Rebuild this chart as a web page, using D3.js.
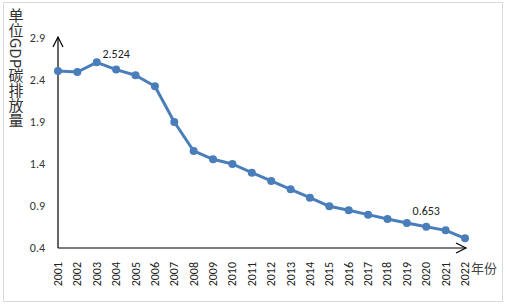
<!DOCTYPE html>
<html>
<head>
<meta charset="utf-8">
<script src="https://cdn.jsdelivr.net/npm/d3@7"></script>
<style>
  body { margin: 0; background: #fff; }
  text { font-family: Calibri, "Liberation Sans", "Noto Sans CJK SC", sans-serif; }
</style>
</head>
<body>
<div id="chart"></div>
<script>
// carbon emission per unit GDP, 2001-2022
const years = ["2001", "2002", "2003", "2004", "2005", "2006", "2007", "2008", "2009", "2010", "2011",
    "2012", "2013", "2014", "2015", "2016", "2017", "2018", "2019", "2020", "2021", "2022"];
const values = [2.507, 2.495, 2.61, 2.524, 2.456, 2.325, 1.9, 1.555, 1.456, 1.40, 1.297,
    1.198, 1.099, 0.999, 0.896, 0.849, 0.797, 0.745, 0.698, 0.653, 0.61, 0.515];
const yTicks = [0.4, 0.9, 1.4, 1.9, 2.4, 2.9];
const labeled = ["2004", "2020"];

const width = 506, height = 305;
const margin = { left: 58, right: 465, top: 38, bottom: 248 };

const svg = d3.select("#chart").append("svg")
    .attr("width", width)
    .attr("height", height);

// outer frame
svg.append("rect")
    .attr("x", 3.5).attr("y", 2.5)
    .attr("width", 499).attr("height", 299)
    .attr("fill", "none")
    .attr("stroke", "#d9d9d9");

const x = d3.scalePoint().domain(years).range([margin.left, margin.right]);
const y = d3.scaleLinear().domain([0.4, 2.9]).range([margin.bottom, margin.top]);

// y tick labels
svg.selectAll(".ytick")
    .data(yTicks)
    .enter()
    .append("text")
    .attr("class", "ytick")
    .attr("x", 45)
    .attr("y", (d) => y(d) + 4)
    .attr("text-anchor", "end")
    .attr("font-size", "12px")
    .attr("fill", "#333")
    .text((d) => d.toFixed(1));

// year labels, rotated
svg.selectAll(".xtick")
    .data(years)
    .enter()
    .append("text")
    .attr("class", "xtick")
    .attr("transform", (d) => "translate(" + (x(d) + 4) + ",262) rotate(-90)")
    .attr("text-anchor", "end")
    .attr("font-size", "12px")
    .attr("fill", "#222")
    .text((d) => d);

// axes with open arrow heads
const L = margin.left, R = margin.right, T = margin.top, B = margin.bottom;
const axisG = svg.append("g").attr("stroke", "#000").attr("fill", "none").attr("stroke-width", 1.2);
axisG.append("path").attr("d", "M" + L + "," + B + "V" + (T - 1));
axisG.append("path").attr("d", "M" + (L - 5) + "," + (T + 9) + "L" + L + "," + (T - 1) + "L" + (L + 5) + "," + (T + 9));
axisG.append("path").attr("d", "M" + L + "," + B + "H" + (R + 1));
axisG.append("path").attr("d", "M" + (R - 9) + "," + (B - 5) + "L" + (R + 1) + "," + B + "L" + (R - 9) + "," + (B + 5));

// series
const line = d3.line()
    .x((d, i) => x(years[i]))
    .y((d) => y(d));

svg.append("path")
    .datum(values)
    .attr("d", line)
    .attr("fill", "none")
    .attr("stroke", "#4a7ebb")
    .attr("stroke-width", 3)
    .attr("stroke-linejoin", "round");

svg.selectAll(".dot")
    .data(values)
    .enter()
    .append("circle")
    .attr("class", "dot")
    .attr("cx", (d, i) => x(years[i]))
    .attr("cy", (d) => y(d))
    .attr("r", 4)
    .attr("fill", "#4a7ebb");

// data labels
svg.selectAll(".dlabel")
    .data(labeled)
    .enter()
    .append("text")
    .attr("class", "dlabel")
    .attr("x", (d) => x(d))
    .attr("y", (d) => y(values[years.indexOf(d)]) - 12)
    .attr("text-anchor", "middle")
    .attr("font-size", "12px")
    .attr("fill", "#222")
    .text((d) => values[years.indexOf(d)].toFixed(3));

// axis titles
svg.append("text")
    .attr("x", 16)
    .attr("y", 8)
    .attr("font-size", "15px")
    .attr("fill", "#333")
    .style("writing-mode", "vertical-rl")
    .style("font-family", "'Noto Sans CJK SC', sans-serif")
    .text("单位GDP碳排放量");

svg.append("text")
    .attr("x", 471)
    .attr("y", 273)
    .attr("font-size", "13px")
    .attr("fill", "#444")
    .style("font-family", "'Noto Sans CJK SC', sans-serif")
    .text("年份");
</script>
</body>
</html>
